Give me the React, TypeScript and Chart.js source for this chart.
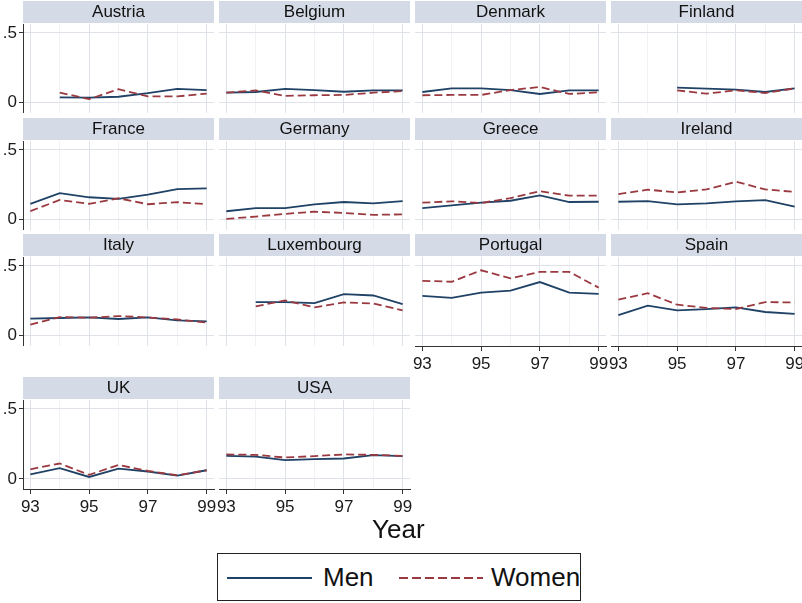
import React, { useEffect, useRef } from 'react';
import { Chart, registerables } from 'chart.js';

Chart.register(...registerables);

const FONT = '"Liberation Sans", Arial, Helvetica, sans-serif';

// ---------- data ----------
const YEARS = [93, 94, 95, 96, 97, 98, 99];
const X_TICK_LABELS = [93, 95, 97, 99];
const Y_TICKS = [0, 0.5];
const Y_TICK_LABELS = ['0', '.5'];

const austriaMen = [null, 0.038, 0.036, 0.043, 0.069, 0.1, 0.09];
const austriaWomen = [null, 0.073, 0.026, 0.097, 0.045, 0.045, 0.066];
const belgiumMen = [0.073, 0.078, 0.1, 0.092, 0.08, 0.09, 0.09];
const belgiumWomen = [0.073, 0.09, 0.05, 0.055, 0.057, 0.073, 0.085];
const denmarkMen = [0.078, 0.104, 0.104, 0.092, 0.064, 0.09, 0.09];
const denmarkWomen = [0.055, 0.057, 0.057, 0.092, 0.114, 0.064, 0.076];
const finlandMen = [null, null, 0.109, 0.102, 0.095, 0.078, 0.104];
const finlandWomen = [null, null, 0.09, 0.066, 0.09, 0.071, 0.104];
const franceMen = [0.114, 0.19, 0.161, 0.149, 0.18, 0.22, 0.225];
const franceWomen = [0.062, 0.142, 0.114, 0.154, 0.111, 0.126, 0.111];
const germanyMen = [0.062, 0.085, 0.085, 0.111, 0.128, 0.118, 0.135];
const germanyWomen = [0.007, 0.024, 0.043, 0.059, 0.05, 0.036, 0.04];
const greeceMen = [0.085, 0.104, 0.123, 0.137, 0.175, 0.128, 0.13];
const greeceWomen = [0.123, 0.133, 0.121, 0.156, 0.206, 0.173, 0.173];
const irelandMen = [0.13, 0.135, 0.111, 0.118, 0.133, 0.142, 0.095];
const irelandWomen = [0.185, 0.216, 0.197, 0.218, 0.273, 0.218, 0.2];
const italyMen = [0.122, 0.127, 0.131, 0.12, 0.131, 0.11, 0.103];
const italyWomen = [0.08, 0.134, 0.129, 0.141, 0.131, 0.117, 0.094];
const luxembourgMen = [null, 0.242, 0.242, 0.235, 0.298, 0.289, 0.228];
const luxembourgWomen = [null, 0.211, 0.254, 0.204, 0.239, 0.232, 0.183];
const portugalMen = [0.286, 0.272, 0.31, 0.324, 0.385, 0.31, 0.3];
const portugalWomen = [0.394, 0.387, 0.469, 0.411, 0.458, 0.458, 0.345];
const spainMen = [0.148, 0.216, 0.183, 0.192, 0.204, 0.171, 0.157];
const spainWomen = [0.26, 0.305, 0.223, 0.2, 0.192, 0.242, 0.239];
const ukMen = [0.033, 0.077, 0.014, 0.074, 0.053, 0.024, 0.062];
const ukWomen = [0.069, 0.11, 0.029, 0.1, 0.057, 0.026, 0.062];
const usaMen = [0.165, 0.16, 0.134, 0.141, 0.146, 0.17, 0.163];
const usaWomen = [0.175, 0.172, 0.153, 0.163, 0.175, 0.172, 0.165];

const PANELS = [
  { name: 'Austria', men: austriaMen, women: austriaWomen, col: 0, row: 0, xAxis: false },
  { name: 'Belgium', men: belgiumMen, women: belgiumWomen, col: 1, row: 0, xAxis: false },
  { name: 'Denmark', men: denmarkMen, women: denmarkWomen, col: 2, row: 0, xAxis: false },
  { name: 'Finland', men: finlandMen, women: finlandWomen, col: 3, row: 0, xAxis: false },
  { name: 'France', men: franceMen, women: franceWomen, col: 0, row: 1, xAxis: false },
  { name: 'Germany', men: germanyMen, women: germanyWomen, col: 1, row: 1, xAxis: false },
  { name: 'Greece', men: greeceMen, women: greeceWomen, col: 2, row: 1, xAxis: false },
  { name: 'Ireland', men: irelandMen, women: irelandWomen, col: 3, row: 1, xAxis: false },
  { name: 'Italy', men: italyMen, women: italyWomen, col: 0, row: 2, xAxis: false },
  { name: 'Luxembourg', men: luxembourgMen, women: luxembourgWomen, col: 1, row: 2, xAxis: false },
  { name: 'Portugal', men: portugalMen, women: portugalWomen, col: 2, row: 2, xAxis: true },
  { name: 'Spain', men: spainMen, women: spainWomen, col: 3, row: 2, xAxis: true },
  { name: 'UK', men: ukMen, women: ukWomen, col: 0, row: 3, xAxis: true },
  { name: 'USA', men: usaMen, women: usaWomen, col: 1, row: 3, xAxis: true },
];

// ---------- layout / style ----------
const COL_LEFTS = [23, 219, 415, 611];
const ROW_TOPS = [24, 141, 257, 400];
const PLOT_W = 191;
const PLOT_H = 89;
const HEAD = 23;
const PAD = 12;
const Y_AXIS_W = 23;
const X_AXIS_H = 26;

const MEN_COLOR = '#1f4266';
const WOMEN_COLOR = '#9a3a40';
const STRIP_COLOR = '#d5dbe6';
const GRID_MAJOR = '#dfe2e8';
const GRID_MINOR = '#f0f2f5';
const AXIS_COLOR = '#333333';

const headerPlugin = {
  id: 'stripHeader',
  beforeDraw(chart: any, _args: any, opts: any) {
    const { ctx, chartArea } = chart;
    ctx.save();
    ctx.fillStyle = STRIP_COLOR;
    ctx.fillRect(chartArea.left, chartArea.top - HEAD, chartArea.right - chartArea.left, HEAD - 1);
    ctx.fillStyle = '#111111';
    ctx.font = `17px ${FONT}`;
    ctx.textAlign = 'center';
    ctx.textBaseline = 'middle';
    ctx.fillText(opts.text, (chartArea.left + chartArea.right) / 2, chartArea.top - HEAD / 2 - 0.5);
    ctx.restore();
  },
};

function Panel({ p }: { p: any }) {
  const ref = useRef<HTMLCanvasElement | null>(null);
  const first = p.col === 0;
  const leftW = first ? Y_AXIS_W : PAD;
  const left = COL_LEFTS[p.col] - leftW;
  const top = ROW_TOPS[p.row] - HEAD;
  const width = leftW + PLOT_W + PAD;
  const height = HEAD + PLOT_H + (p.xAxis ? X_AXIS_H : PAD);

  useEffect(() => {
    if (!ref.current) return;
    const toPts = (arr: (number | null)[]) => YEARS.map((x, i) => ({ x, y: arr[i] }));
    const chart = new Chart(ref.current, {
      type: 'line',
      data: {
        datasets: [
          {
            label: 'Men',
            data: toPts(p.men) as any,
            borderColor: MEN_COLOR,
            borderWidth: 1.8,
            pointRadius: 0,
            tension: 0,
            spanGaps: false,
            order: 1,
          },
          {
            label: 'Women',
            data: toPts(p.women) as any,
            borderColor: WOMEN_COLOR,
            borderWidth: 1.8,
            borderDash: [8, 4],
            pointRadius: 0,
            tension: 0,
            spanGaps: false,
            order: 0,
          },
        ],
      },
      options: {
        responsive: false,
        animation: false,
        devicePixelRatio: 1,
        layout: {
          padding: { top: HEAD, left: first ? 0 : PAD, right: PAD, bottom: p.xAxis ? 0 : PAD },
        },
        plugins: {
          legend: { display: false },
          tooltip: { enabled: false },
          title: { display: false },
          stripHeader: { text: p.name },
        } as any,
        scales: {
          x: {
            type: 'linear',
            min: 92.75,
            max: 99.25,
            afterBuildTicks: (s: any) => {
              s.ticks = YEARS.map((v) => ({ value: v }));
            },
            afterFit: (s: any) => {
              s.height = p.xAxis ? X_AXIS_H : 0;
            },
            grid: {
              color: (c: any) => (c.tick && X_TICK_LABELS.includes(c.tick.value) ? GRID_MAJOR : GRID_MINOR),
              tickColor: (c: any) =>
                c.tick && X_TICK_LABELS.includes(c.tick.value) ? AXIS_COLOR : 'rgba(0,0,0,0)',
              drawTicks: p.xAxis,
              tickLength: 5,
              lineWidth: 1,
            },
            border: { display: p.xAxis, color: AXIS_COLOR, width: 1 },
            ticks: {
              display: p.xAxis,
              autoSkip: false,
              maxRotation: 0,
              padding: 3,
              color: '#1a1a1a',
              font: { size: 17, family: FONT },
              callback: (v: any) => (X_TICK_LABELS.includes(Number(v)) ? String(v) : ''),
            },
          },
          y: {
            type: 'linear',
            min: -0.072,
            max: 0.564,
            afterBuildTicks: (s: any) => {
              s.ticks = Y_TICKS.map((v) => ({ value: v }));
            },
            afterFit: (s: any) => {
              s.width = first ? Y_AXIS_W : 0;
            },
            grid: {
              color: GRID_MAJOR,
              tickColor: AXIS_COLOR,
              drawTicks: first,
              tickLength: 4,
              lineWidth: 1,
            },
            border: { display: first, color: AXIS_COLOR, width: 1 },
            ticks: {
              display: first,
              padding: 2,
              color: '#1a1a1a',
              font: { size: 17, family: FONT },
              callback: (v: any) => {
                const i = Y_TICKS.indexOf(Number(v));
                return i >= 0 ? Y_TICK_LABELS[i] : '';
              },
            },
          },
        },
      },
      plugins: [headerPlugin as any],
    } as any);
    return () => chart.destroy();
  }, []);

  return (
    <canvas
      ref={ref}
      width={width}
      height={height}
      style={{ position: 'absolute', left, top, width, height }}
    />
  );
}

export default function App() {
  return (
    <div
      style={{
        position: 'fixed',
        left: 0,
        top: 0,
        width: 802,
        height: 603,
        overflow: 'hidden',
        background: '#ffffff',
        fontFamily: FONT,
      }}
    >
      {PANELS.map((p) => (
        <Panel key={p.name} p={p} />
      ))}
      <div
        style={{
          position: 'absolute',
          left: 372,
          top: 516,
          fontSize: 26,
          lineHeight: '26px',
          color: '#111',
          whiteSpace: 'nowrap',
        }}
      >
        Year
      </div>
      <div
        style={{
          position: 'absolute',
          left: 217,
          top: 553,
          width: 362,
          height: 46,
          border: '1px solid #222',
          overflow: 'visible',
        }}
      >
        <div
          style={{
            position: 'absolute',
            left: 9,
            top: 23,
            width: 85,
            height: 2,
            background: MEN_COLOR,
          }}
        />
        <div
          style={{
            position: 'absolute',
            left: 105,
            top: 10,
            fontSize: 26,
            lineHeight: '26px',
            color: '#111',
            whiteSpace: 'nowrap',
          }}
        >
          Men
        </div>
        <div
          style={{
            position: 'absolute',
            left: 181,
            top: 23,
            width: 84,
            height: 2,
            background: `repeating-linear-gradient(90deg, ${WOMEN_COLOR} 0px, ${WOMEN_COLOR} 9px, transparent 9px, transparent 13px)`,
          }}
        />
        <div
          style={{
            position: 'absolute',
            left: 273,
            top: 10,
            fontSize: 26,
            lineHeight: '26px',
            color: '#111',
            whiteSpace: 'nowrap',
          }}
        >
          Women
        </div>
      </div>
    </div>
  );
}
